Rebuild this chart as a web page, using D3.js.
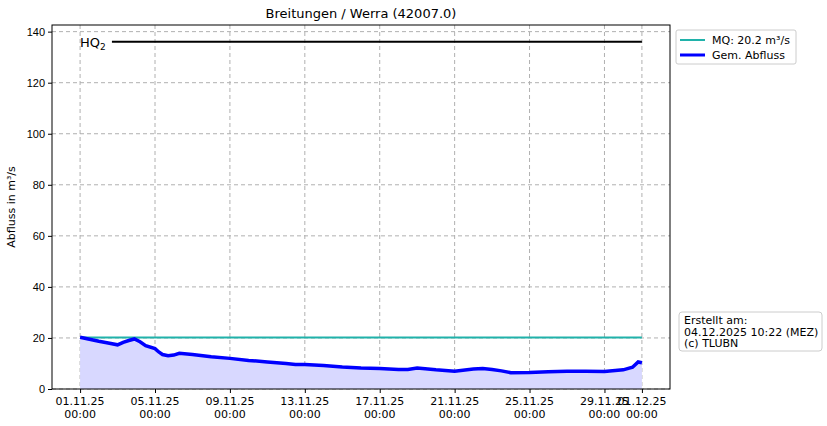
<!DOCTYPE html><html><head><meta charset="utf-8">
<script src="https://cdn.jsdelivr.net/npm/d3@7"></script>
<style>body{margin:0;background:#fff;font-family:"DejaVu Sans",sans-serif}</style></head><body>
<svg id="c" width="827" height="426"></svg>
<script>
const dayOffsets=[0,0.5,1,1.5,2,2.3,2.6,2.9,3.2,3.5,4,4.2,4.4,4.7,5,5.3,6,7,8,9,10,11,11.5,12,12.5,13,14,15,16,17,17.5,18,19,20,21,21.5,22,22.5,23,24,25,26,27,28,29,29.5,29.8,30];
const flow=[20.3,19.5,18.7,18,17.3,18.3,19,19.6,18.5,17,15.8,14.5,13.5,13,13.3,14,13.5,12.6,12,11.2,10.6,10,9.6,9.6,9.4,9.2,8.6,8.2,8,7.6,7.6,8.2,7.5,7,7.8,8,7.6,7.1,6.4,6.5,6.8,7,7,6.9,7.5,8.5,10.6,10.3];
const MQ=20.2, HQ2=136;
const yTicks=[0,20,40,60,80,100,120,140];
const xTickDays=[0,4,8,12,16,20,24,28,30];
const xTickLabels=["01.11.25","05.11.25","09.11.25","13.11.25","17.11.25","21.11.25","25.11.25","29.11.25","01.12.25"];
const svg=d3.select("#c");
const m={l:52,r:670,t:25,b:389};
const x=d3.scaleLinear().domain([-1.5,31.5]).range([m.l,m.r]);
const y=d3.scaleLinear().domain([0,142.6]).range([m.b,m.t]);
const g=svg.append("g");
// grid
g.selectAll(".gy").data(yTicks).join("line").attr("x1",m.l).attr("x2",m.r).attr("y1",d=>y(d)).attr("y2",d=>y(d)).attr("stroke","#b0b0b0").attr("stroke-dasharray","4,3");
g.selectAll(".gx").data(xTickDays).join("line").attr("y1",m.t).attr("y2",m.b).attr("x1",d=>x(d)).attr("x2",d=>x(d)).attr("stroke","#b0b0b0").attr("stroke-dasharray","4,3");
const pts=dayOffsets.map((d,i)=>[d,flow[i]]);
g.append("path").datum(pts).attr("d",d3.area().x(d=>x(d[0])).y0(y(0)).y1(d=>y(d[1]))).attr("fill","#d8d8ff");
g.append("line").attr("x1",x(0)).attr("x2",x(30)).attr("y1",y(MQ)).attr("y2",y(MQ)).attr("stroke","#20b2aa").attr("stroke-width",2);
g.append("path").datum(pts).attr("d",d3.line().x(d=>x(d[0])).y(d=>y(d[1]))).attr("fill","none").attr("stroke","#0000ff").attr("stroke-width",3.5);
g.append("line").attr("x1",x(1.7)).attr("x2",x(30)).attr("y1",y(HQ2)).attr("y2",y(HQ2)).attr("stroke","#000").attr("stroke-width",2);
const ht=g.append("text").attr("x",x(0)).attr("y",y(HQ2)+5).attr("font-size",13);
ht.append("tspan").text("HQ");ht.append("tspan").attr("font-size",9).attr("dy",3).text("2");
// frame
g.append("rect").attr("x",m.l).attr("y",m.t).attr("width",m.r-m.l).attr("height",m.b-m.t).attr("fill","none").attr("stroke","#000");
// axes
const ya=g.append("g").attr("transform",`translate(${m.l},0)`).call(d3.axisLeft(y).tickValues(yTicks).tickSize(4).tickSizeOuter(0));
ya.select(".domain").remove();ya.selectAll("text").attr("font-size",11).attr("fill","#000");
const xa=g.append("g").attr("transform",`translate(0,${m.b})`).call(d3.axisBottom(x).tickValues(xTickDays).tickFormat("").tickSize(4).tickSizeOuter(0));
xa.select(".domain").remove();
xTickDays.forEach((d,i)=>{const t=g.append("text").attr("x",x(d)).attr("y",m.b+16).attr("text-anchor","middle").attr("font-size",11);
t.append("tspan").attr("x",x(d)).text(xTickLabels[i]);t.append("tspan").attr("x",x(d)).attr("dy",13).text("00:00");});
svg.append("text").attr("x",361).attr("y",18).attr("text-anchor","middle").attr("font-size",13).text("Breitungen / Werra (42007.0)");
svg.append("text").attr("transform",`translate(15,207) rotate(-90)`).attr("text-anchor","middle").attr("font-size",11).text("Abfluss in m³/s");
// legend
const lg=svg.append("g");
lg.append("rect").attr("x",676).attr("y",30).attr("width",120).attr("height",34).attr("rx",2).attr("fill","#fff").attr("stroke","#ccc");
lg.append("line").attr("x1",680).attr("x2",705).attr("y1",40).attr("y2",40).attr("stroke","#20b2aa").attr("stroke-width",2);
lg.append("text").attr("x",712).attr("y",44).attr("font-size",11).text("MQ: 20.2 m³/s");
lg.append("line").attr("x1",680).attr("x2",705).attr("y1",55).attr("y2",55).attr("stroke","#0000ff").attr("stroke-width",3);
lg.append("text").attr("x",712).attr("y",59).attr("font-size",11).text("Gem. Abfluss");
const ib=svg.append("g");
ib.append("rect").attr("x",679).attr("y",312).attr("width",143).attr("height",39).attr("rx",3).attr("fill","#fff").attr("stroke","#ccc");
["Erstellt am:","04.12.2025 10:22 (MEZ)","(c) TLUBN"].forEach((s,i)=>ib.append("text").attr("x",684).attr("y",324+i*11.5).attr("font-size",11).text(s));
</script></body></html>
